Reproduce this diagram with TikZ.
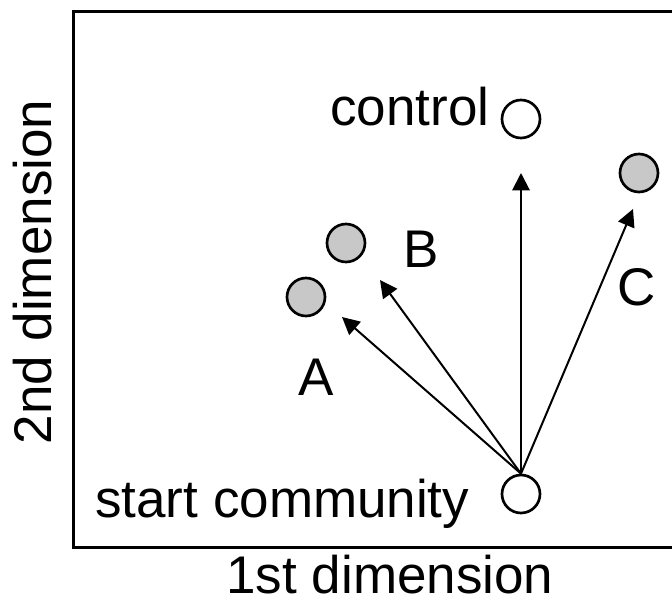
\documentclass[tikz,border=0pt]{standalone}
\usepackage{fontspec}
\setmainfont{Liberation Sans}
\usetikzlibrary{arrows.meta}
\definecolor{dotgray}{RGB}{200,200,200}
\begin{document}
\begin{tikzpicture}[x=0.75pt,y=-0.75pt,
  lbl/.style={inner sep=0pt,font=\fontsize{39.75}{46}\selectfont},
  dot/.style={circle,draw=black,line width=2pt,minimum size=28.5pt,inner sep=0pt},
  shade/.style={dot,fill=dotgray},
  open/.style={dot,fill=white},
  move/.style={line width=1.5pt,-{Triangle[length=13pt,width=13pt]}}]
\useasboundingbox (0,0) rectangle (672,614);
% plot frame, open on the right
\draw[line width=2.25pt] (672,11) -- (73,11) -- (73,547) -- (672,547);
% communities
\node[open]  (start) at (521,494) {};
\node[open]  (ctrl)  at (521,119) {};
\node[shade] (a)     at (306,297) {};
\node[shade] (b)     at (346,243) {};
\node[shade] (c)     at (639,173) {};
% arrow ends
\coordinate (ta) at (342,317);
\coordinate (tb) at (380,280);
\coordinate (tc) at (521,173);
\coordinate (tcc) at (633,209);
\draw[move] (start.north) -- (ta);
\draw[move] (start.north) -- (tb);
\draw[move] (start.north) -- (tc);
\draw[move] (start.north) -- (tcc);
% labels
\node[lbl,anchor=base west] (lctrl) at (330,125) {control};
\node[lbl,anchor=base west] (lstart) at (95,517) {start community};
\node[lbl,anchor=base west] (la) at (298,395) {A};
\node[lbl,anchor=base west] (lb) at (403,267) {B};
\node[lbl,anchor=base west] (lc) at (617,305) {C};
% axis titles
\node[lbl,anchor=base] (xt) at (390,593) {1st dimension};
\node[lbl,anchor=base,rotate=90] (yt) at (51,272) {2nd dimension};
\end{tikzpicture}
\end{document}
